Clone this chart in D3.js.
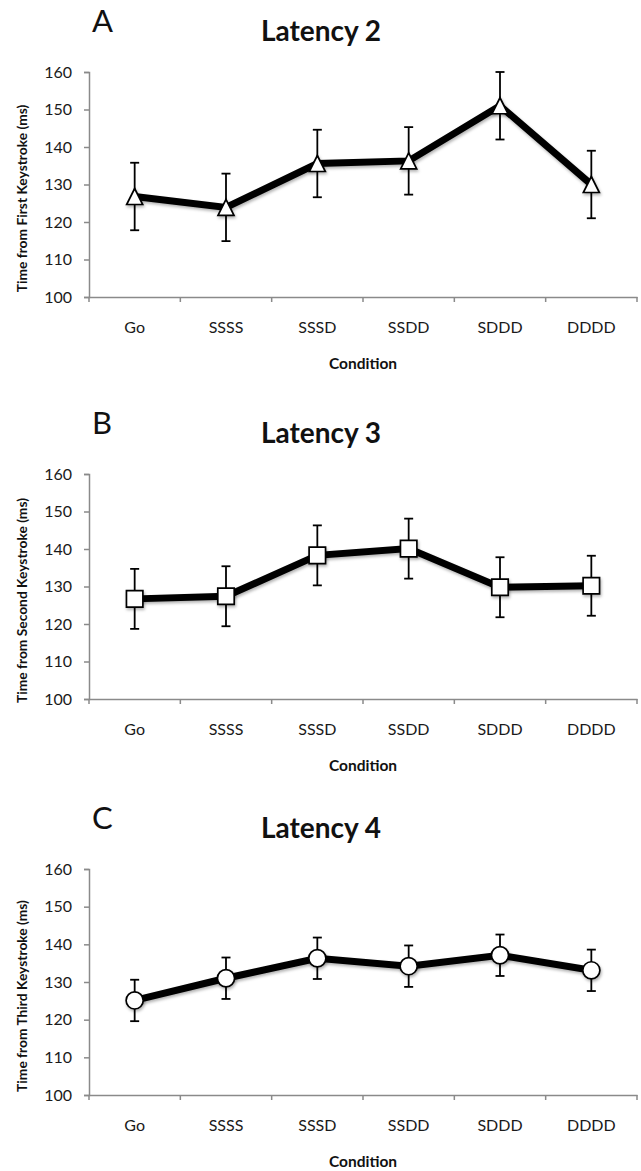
<!DOCTYPE html>
<html><head><meta charset="utf-8">
<script src="https://cdn.jsdelivr.net/npm/d3@7"></script>
<style>
html,body{margin:0;padding:0;background:#fff;}
svg{display:block;font-family:Lato,"Open Sans",sans-serif;}
</style></head>
<body>
<div id="chart"></div>
<script>
// ---- data ----
const categories = ["Go","SSSS","SSSD","SSDD","SDDD","DDDD"];
const yTicks = [100,110,120,130,140,150,160];
const panelLetters = ["A","B","C"];
const panelTitles = ["Latency 2","Latency 3","Latency 4"];
const yTitles = ["Time from First Keystroke (ms)","Time from Second Keystroke (ms)","Time from Third Keystroke (ms)"];
const xTitle = "Condition";
const latency2 = [126.8,123.9,135.6,136.3,151.0,130.0];
const latency2Err = [9,9,9,9,9,9];
const latency3 = [126.7,127.4,138.3,140.1,129.8,130.2];
const latency3Err = [8,8,8,8,8,8];
const latency4 = [125.1,131.0,136.3,134.2,137.1,133.1];
const latency4Err = [5.5,5.5,5.5,5.5,5.5,5.5];
const markers = ["triangle","square","circle"];

const W = 641, H = 1171;
const svg = d3.select("#chart").append("svg").attr("width",W).attr("height",H);
const defs = svg.append("defs");
const f = defs.append("filter").attr("id","sh").attr("x","-50%").attr("y","-50%").attr("width","200%").attr("height","200%");
f.append("feDropShadow").attr("dx",1).attr("dy",2).attr("stdDeviation",1.8).attr("flood-color","#000").attr("flood-opacity",0.3);

const panels = [
  {vals:latency2, err:latency2Err, top:72, bottom:297},
  {vals:latency3, err:latency3Err, top:474, bottom:699},
  {vals:latency4, err:latency4Err, top:869, bottom:1095}
];
const left = 89, right = 637;

// custom triangle symbol (slightly taller than equilateral)
const triSym = {draw(ctx, size){ const w=8, h=8; ctx.moveTo(0,-h); ctx.lineTo(w,h); ctx.lineTo(-w,h); ctx.closePath(); }};

panels.forEach((p,pi)=>{
  const g = svg.append("g");
  const x = d3.scaleBand().domain(categories).range([left,right]);
  const y = d3.scaleLinear().domain([100,160]).range([p.bottom,p.top]);

  // panel letter & title
  g.append("text").attr("x",92).attr("y",p.top-40).attr("font-size",31).attr("fill","#111").text(panelLetters[pi]);
  g.append("text").attr("x",321).attr("y",p.top-31).attr("text-anchor","middle").attr("font-size",28).attr("font-weight","bold").attr("fill","#111").text(panelTitles[pi]);

  // y axis
  const ya = g.append("g").attr("transform",`translate(${left},0)`)
    .call(d3.axisLeft(y).tickValues(yTicks).tickSize(5).tickPadding(12).tickFormat(d3.format("d")));
  ya.select(".domain").attr("stroke","#8a8a8a").attr("stroke-width",1.5);
  ya.selectAll(".tick line").attr("stroke","#8a8a8a").attr("stroke-width",1.5);
  ya.selectAll(".tick text").attr("font-size",16).attr("fill","#1a1a1a").attr("font-family","Lato,sans-serif");

  // x axis: ticks at category boundaries
  const xa = g.append("g").attr("transform",`translate(0,${p.bottom})`)
    .call(d3.axisBottom(x).tickSize(0).tickPadding(25));
  xa.select(".domain").attr("stroke","#8a8a8a").attr("stroke-width",1.5);
  xa.selectAll(".tick text").attr("font-size",16).attr("fill","#1a1a1a").attr("font-family","Lato,sans-serif");
  const bounds = categories.map(c=>x(c)).concat([x(categories[categories.length-1])+x.bandwidth()]);
  xa.selectAll("line.bt").data(bounds).enter().append("line").attr("class","bt")
    .attr("x1",d=>d).attr("x2",d=>d).attr("y1",0).attr("y2",5)
    .attr("stroke","#8a8a8a").attr("stroke-width",1.5);

  // axis titles
  const midY = (p.top+p.bottom)/2 + 14;
  g.append("text").attr("transform",`translate(27,${midY}) rotate(-90)`).attr("text-anchor","middle")
    .attr("font-size",13.8).attr("font-weight","bold").attr("fill","#111").text(yTitles[pi]);
  g.append("text").attr("x",(left+right)/2).attr("y",p.bottom+72).attr("text-anchor","middle")
    .attr("font-size",15.5).attr("font-weight","bold").attr("fill","#111").text(xTitle);

  const cx = c => x(c)+x.bandwidth()/2;
  const data = categories.map((c,i)=>({c, v:p.vals[i], e:p.err[i]}));

  // error bars
  const eb = g.append("g").attr("stroke","#000").attr("stroke-width",1.8).attr("fill","none");
  data.forEach(d=>{
    eb.append("line").attr("x1",cx(d.c)).attr("x2",cx(d.c)).attr("y1",y(d.v+d.e)).attr("y2",y(d.v-d.e));
    eb.append("line").attr("x1",cx(d.c)-4.5).attr("x2",cx(d.c)+4.5).attr("y1",y(d.v+d.e)).attr("y2",y(d.v+d.e));
    eb.append("line").attr("x1",cx(d.c)-4.5).attr("x2",cx(d.c)+4.5).attr("y1",y(d.v-d.e)).attr("y2",y(d.v-d.e));
  });

  // line
  g.append("path").datum(data)
    .attr("d",d3.line().x(d=>cx(d.c)).y(d=>y(d.v)))
    .attr("fill","none").attr("stroke","#000").attr("stroke-width",7).attr("stroke-linejoin","miter")
    .attr("filter","url(#sh)");

  // markers
  const m = markers[pi];
  const sym = m==="triangle" ? d3.symbol().type(triSym)
            : m==="square" ? d3.symbol().type(d3.symbolSquare).size(270)
            : d3.symbol().type(d3.symbolCircle).size(230);
  g.selectAll("path.mk").data(data).enter().append("path").attr("class","mk")
    .attr("d",sym)
    .attr("transform",d=>`translate(${cx(d.c)},${y(d.v)})`)
    .attr("fill","#fff").attr("stroke","#000").attr("stroke-width",1.7)
    .attr("filter","url(#sh)");
});
</script>
</body></html>
